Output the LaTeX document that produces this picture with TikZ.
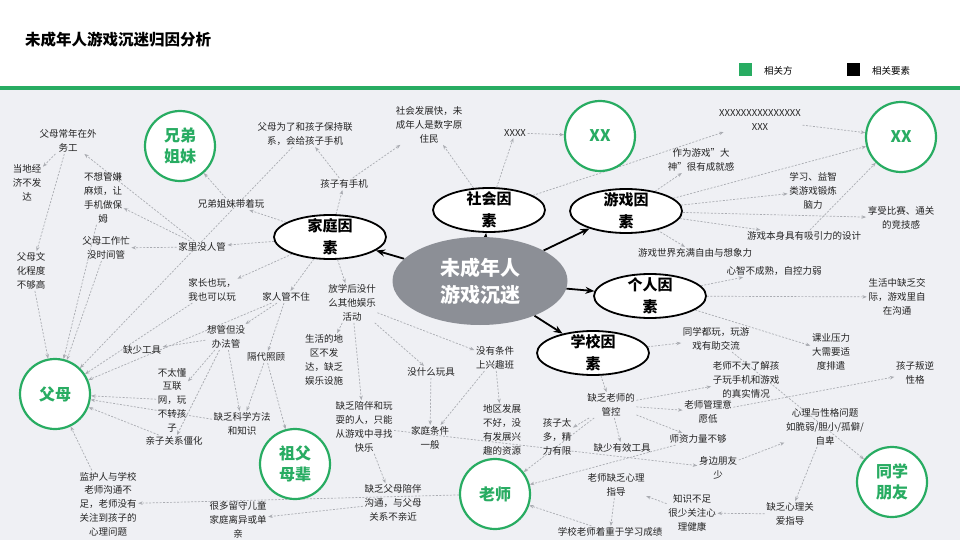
\documentclass[tikz,border=0pt]{standalone}
\usepackage{fontspec}
\setmainfont{Noto Sans CJK SC}
\usetikzlibrary{shapes.geometric,arrows.meta}
\pgfdeclarelayer{edges}
\pgfsetlayers{edges,main}
\definecolor{grn}{RGB}{40,172,98}
\definecolor{bgc}{RGB}{239,240,244}
\definecolor{ctr}{RGB}{140,143,150}
\definecolor{dln}{RGB}{170,172,178}
\definecolor{txt}{RGB}{35,35,35}
\tikzset{
 lbl/.style={font=\fontsize{9.5}{13.8}\selectfont, align=center, text=txt, inner sep=1.5pt},
 party/.style={circle, draw=grn, line width=2.2pt, fill=white, minimum size=70pt, inner sep=0pt, text=grn, font=\bfseries\fontsize{16}{21}\selectfont, align=center},
 factor/.style={ellipse, draw=black, line width=1.8pt, fill=white, minimum width=112pt, minimum height=44pt, inner sep=0pt},
 ftext/.style={font=\bfseries\fontsize{15}{22}\selectfont, align=center, inner sep=0pt},
 hubstyle/.style={ellipse, fill=ctr, minimum width=175pt, minimum height=88pt, text=white, font=\bfseries\fontsize{20}{27}\selectfont, align=center},
 dep/.style={draw=dln, line width=0.7pt, dash pattern=on 2pt off 1.5pt, -{Stealth[length=4.5pt,width=3.5pt]}},
 mainarrow/.style={draw=black, line width=1.8pt, -{Stealth[length=9pt,width=7pt]}},
}
\begin{document}
\begin{tikzpicture}[x=1pt,y=-1pt]
\useasboundingbox (0,0) rectangle (960,540);
\begin{pgfonlayer}{edges}
\fill[white] (0,0) rectangle (960,86);
\fill[bgc] (0,90) rectangle (960,540);
\fill[grn] (0,86) rectangle (960,90);
\end{pgfonlayer}
\node[anchor=west, font=\bfseries\fontsize{15.5}{17}\selectfont, inner sep=0pt] (title) at (25,40) {未成年人游戏沉迷归因分析};
\node[fill=grn, minimum size=13pt, inner sep=0pt] (lg1) at (745,70) {};
\node[anchor=west, font=\fontsize{9.5}{11}\selectfont, inner sep=0pt] (lt1) at (764,71) {相关方};
\node[fill=black, minimum size=13pt, inner sep=0pt] (lg2) at (853,70) {};
\node[anchor=west, font=\fontsize{9.5}{11}\selectfont, inner sep=0pt] (lt2) at (872,71) {相关要素};

% hub and factors
\node[hubstyle] (hub) at (480,281) {未成年人\\游戏沉迷};
\node[factor] (fJT) at (330,237) {};
\node[ftext] at (fJT) {家庭因\\素};
\node[factor] (fSH) at (489,210) {};
\node[ftext] at (fSH) {社会因\\素};
\node[factor] (fYX) at (626,211) {};
\node[ftext] at (fYX) {游戏因\\素};
\node[factor] (fGR) at (650,296) {};
\node[ftext] at (fGR) {个人因\\素};
\node[factor] (fXX) at (593,353) {};
\node[ftext] at (fXX) {学校因\\素};

% parties
\node[party] (pXD) at (180,146) {兄弟\\姐妹};
\node[party] (pXX1) at (600,136) {XX};
\node[party] (pXX2) at (901,137) {XX};
\node[party] (pFM) at (55,394) {父母};
\node[party] (pZF) at (295,464) {祖父\\母辈};
\node[party] (pLS) at (495,494) {老师};
\node[party] (pTX) at (892,482) {同学\\朋友};

% labels
\node[lbl] (wg) at (68,141) {父母常年在外\\务工};
\node[lbl] (dd) at (27,183) {当地经\\济不发\\达};
\node[lbl] (bx) at (103,198) {不想管嫌\\麻烦，让\\手机做保\\姆};
\node[lbl] (gzm) at (106,248) {父母工作忙\\没时间管};
\node[lbl] (wh) at (31,271) {父母文\\化程度\\不够高};
\node[lbl] (jlm) at (202,247) {家里没人管};
\node[lbl] (xdw) at (231,204) {兄弟姐妹带着玩};
\node[lbl] (bm) at (305,134) {父母为了和孩子保持联\\系，会给孩子手机};
\node[lbl] (sj) at (344,184) {孩子有手机};
\node[lbl] (sh) at (429,125) {社会发展快，未\\成年人是数字原\\住民};
\node[lbl] (xfour) at (515,133) {XXXX};
\node[lbl] (xlong) at (760,120) {XXXXXXXXXXXXXXX\\XXX};
\node[lbl] (ds) at (701,160) {作为游戏"大\\神"很有成就感};
\node[lbl] (yz) at (813,191) {学习、益智\\类游戏锻炼\\脑力};
\node[lbl] (bs) at (901,218) {享受比赛、通关\\的竞技感};
\node[lbl] (sjd) at (804,236) {游戏本身具有吸引力的设计};
\node[lbl] (zy) at (695,253) {游戏世界充满自由与想象力};
\node[lbl] (xz) at (774,271) {心智不成熟，自控力弱};
\node[lbl] (jj) at (897,297) {生活中缺乏交\\际，游戏里自\\在沟通};
\node[lbl] (jzw) at (212,290) {家长也玩，\\我也可以玩};
\node[lbl] (gbz) at (286,297) {家人管不住};
\node[lbl] (fx) at (352,303) {放学后没什\\么其他娱乐\\活动};
\node[lbl] (qsgj) at (142,350) {缺少工具};
\node[lbl] (xg) at (226,337) {想管但没\\办法管};
\node[lbl] (gd) at (266,357) {隔代照顾};
\node[lbl] (shdq) at (324,360) {生活的地\\区不发\\达，缺乏\\娱乐设施};
\node[lbl] (wj) at (431,372) {没什么玩具};
\node[lbl] (xqb) at (495,358) {没有条件\\上兴趣班};
\node[lbl] (tw) at (716,339) {同学都玩，玩游\\戏有助交流};
\node[lbl] (ky) at (831,352) {课业压力\\大需要适\\度排遣};
\node[lbl] (pn) at (915,373) {孩子叛逆\\性格};
\node[lbl] (lsbl) at (746,380) {老师不大了解孩\\子玩手机和游戏\\的真实情况};
\node[lbl] (bd) at (172,400) {不太懂\\互联\\网，玩\\不转孩\\子};
\node[lbl] (qz) at (174,441) {亲子关系僵化};
\node[lbl] (kx) at (242,424) {缺乏科学方法\\和知识};
\node[lbl] (pb) at (364,427) {缺乏陪伴和玩\\耍的人，只能\\从游戏中寻找\\快乐};
\node[lbl] (jt) at (430,438) {家庭条件\\一般};
\node[lbl] (dq) at (502,430) {地区发展\\不好，没\\有发展兴\\趣的资源};
\node[lbl] (ht) at (557,437) {孩子太\\多，精\\力有限};
\node[lbl] (gk) at (611,405) {缺乏老师的\\管控};
\node[lbl] (gl) at (708,412) {老师管理意\\愿低};
\node[lbl] (gj) at (622,448) {缺少有效工具};
\node[lbl] (sz) at (698,439) {师资力量不够};
\node[lbl] (xlw) at (825,427) {心理与性格问题\\如脆弱/胆小/孤僻/\\自卑};
\node[lbl] (pys) at (718,468) {身边朋友\\少};
\node[lbl] (xlzd) at (616,485) {老师缺乏心理\\指导};
\node[lbl] (zs) at (692,513) {知识不足\\很少关注心\\理健康};
\node[lbl] (ga) at (790,514) {缺乏心理关\\爱指导};
\node[lbl] (cj) at (610,532) {学校老师着重于学习成绩};
\node[lbl] (jh) at (108,504) {监护人与学校\\老师沟通不\\足，老师没有\\关注到孩子的\\心理问题};
\node[lbl] (ls) at (238,520) {很多留守儿童\\家庭离异或单\\亲};
\node[lbl] (pbgt) at (393,503) {缺乏父母陪伴\\沟通，与父母\\关系不亲近};

\begin{pgfonlayer}{edges}
% main arrows
\draw[mainarrow] (hub) -- (fJT);
\draw[mainarrow] (hub) -- (fSH);
\draw[mainarrow] (hub) -- (fYX);
\draw[mainarrow] (hub) -- (fGR);
\draw[mainarrow] (hub) -- (fXX);

% family
\draw[dep] (fJT) -- (xdw);
\draw[dep] (xdw) -- (pXD);
\draw[dep] (fJT) -- (sj);
\draw[dep] (sj) -- (bm);
\draw[dep] (sj) -- (sh);
\draw[dep] (fJT) -- (jlm);
\draw[dep] (jlm) -- (gzm);
\draw[dep] (jlm) -- (wg);
\draw[dep] (jlm) -- (bx);
\draw[dep] (wg) -- (dd);
\draw[dep] (wg) -- (wh);
\draw[dep] (wh) -- (pFM);
\draw[dep] (bx) -- (pFM);
\draw[dep] (gzm) -- (pFM);
\draw[dep] (bm) -- (pFM);
\draw[dep] (fJT) -- (jzw);
\draw[dep] (fJT) -- (gbz);
\draw[dep] (fJT) -- (fx);
\draw[dep] (gbz) -- (pFM);
\draw[dep] (jzw) -- (pFM);
\draw[dep] (gbz) -- (xg);
\draw[dep] (gbz) -- (gd);
\draw[dep] (xg) -- (qsgj);
\draw[dep] (xg) -- (bd);
\draw[dep] (xg) -- (kx);
\draw[dep] (gd) -- (kx);
\draw[dep] (gd) -- (pZF);
\draw[dep] (kx) -- (pFM);
\draw[dep] (qz) -- (pFM);
\draw[dep] (bd) -- (pFM);
\draw[dep] (xg) -- (qz);
\draw[dep] (jh) -- (pFM);
\draw[dep] (pLS) -- (jh);
\draw[dep] (fx) -- (shdq);
\draw[dep] (fx) -- (wj);
\draw[dep] (fx) -- (pb);
\draw[dep] (fx) -- (xqb);
\draw[dep] (wj) -- (jt);
\draw[dep] (xqb) -- (jt);
\draw[dep] (xqb) -- (dq);
\draw[dep] (pb) -- (pbgt);
\draw[dep] (pb) -- (pys);
\draw[dep] (pbgt) -- (ls);

% social
\draw[dep] (fSH) -- (sh);
\draw[dep] (fSH) -- (xfour);
\draw[dep] (xfour) -- (pXX1);
\draw[dep] (fSH) -- (xlong);

% game
\draw[dep] (fYX) -- (ds);
\draw[dep] (xlong) -- (pXX2);
\draw[dep] (fYX) -- (pXX2);
\draw[dep] (fYX) -- (yz);
\draw[dep] (fYX) -- (bs);
\draw[dep] (fYX) -- (sjd);
\draw[dep] (fYX) -- (zy);
\draw[dep] (sjd) -- (pXX2);

% personal
\draw[dep] (fGR) -- (xz);
\draw[dep] (fGR) -- (jj);
\draw[dep] (fGR) -- (ky);

% school
\draw[dep] (fXX) -- (tw);
\draw[dep] (tw) -- (pTX);
\draw[dep] (fXX) -- (gk);
\draw[dep] (gk) -- (ht);
\draw[dep] (gk) -- (gj);
\draw[dep] (gk) -- (pLS);
\draw[dep] (gk) -- (lsbl);
\draw[dep] (gk) -- (gl);
\draw[dep] (gk) -- (sz);
\draw[dep] (sz) -- (pLS);
\draw[dep] (gl) -- (pn);
\draw[dep] (pys) -- (xlw);
\draw[dep] (xlw) -- (ga);
\draw[dep] (ga) -- (zs);
\draw[dep] (zs) -- (xlzd);
\draw[dep] (xlzd) -- (cj);
\draw[dep] (cj) -- (pLS);
\end{pgfonlayer}
\end{tikzpicture}
\end{document}
